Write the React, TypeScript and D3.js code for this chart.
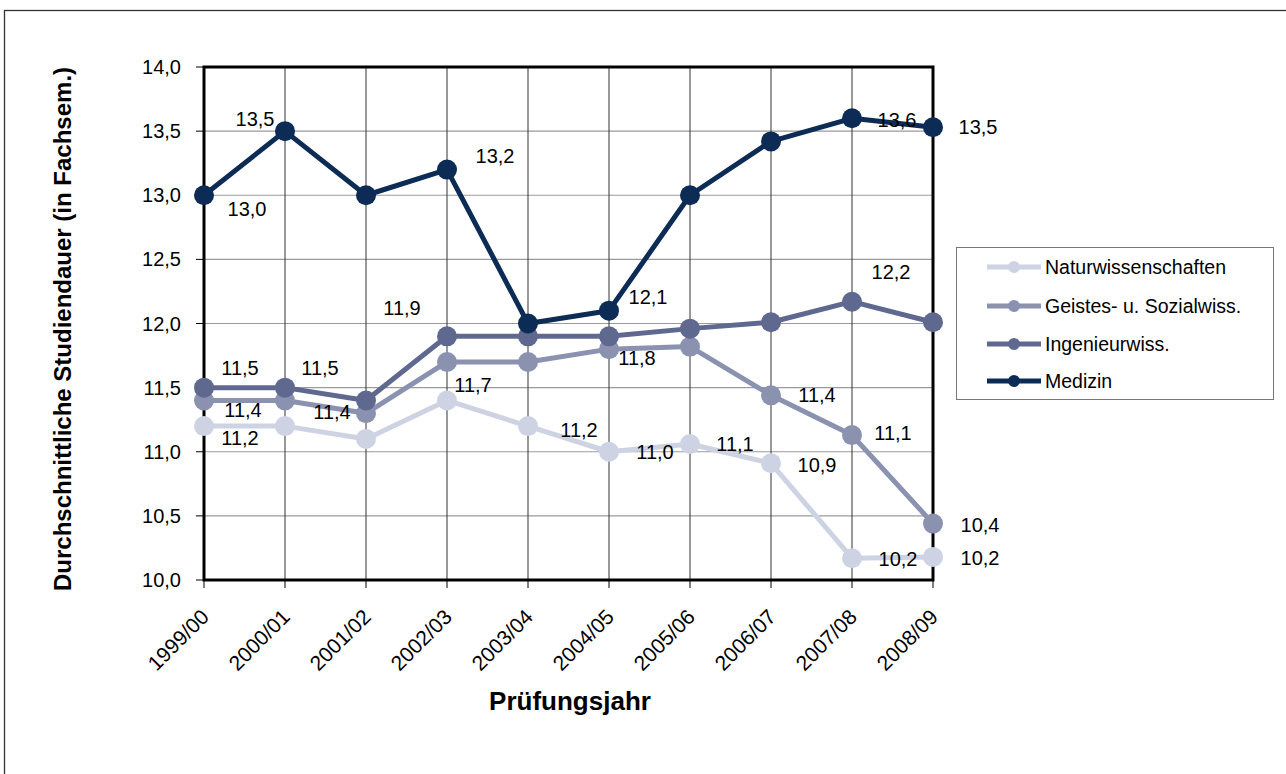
import React from "react";
import * as d3 from "d3";

const years = ["1999/00","2000/01","2001/02","2002/03","2003/04","2004/05","2005/06","2006/07","2007/08","2008/09"];
const seriesNames = ["Naturwissenschaften","Geistes- u. Sozialwiss.","Ingenieurwiss.","Medizin"];
const natur = [11.2, 11.2, 11.1, 11.4, 11.2, 11.0, 11.06, 10.91, 10.17, 10.18];
const geistes = [11.4, 11.4, 11.3, 11.7, 11.7, 11.8, 11.82, 11.44, 11.13, 10.44];
const ingenieur = [11.5, 11.5, 11.4, 11.9, 11.9, 11.9, 11.96, 12.01, 12.17, 12.01];
const medizin = [13.0, 13.5, 13.0, 13.2, 12.0, 12.1, 13.0, 13.42, 13.6, 13.53];
const yTicks = [10, 10.5, 11, 11.5, 12, 12.5, 13, 13.5, 14];
const seriesColors = ["#cdd3e3", "#8a92b0", "#5f6990", "#0c2b55"];

// which points carry a value label, and where (offset from the point)
const labelPlacement = [
  { s: 0, i: 0, dx: 36, dy: 12 }, { s: 0, i: 4, dx: 51, dy: 4 }, { s: 0, i: 5, dx: 46, dy: 0 },
  { s: 0, i: 6, dx: 45, dy: 0 }, { s: 0, i: 7, dx: 46, dy: 2 }, { s: 0, i: 8, dx: 46, dy: 1 },
  { s: 0, i: 9, dx: 47, dy: 1 },
  { s: 1, i: 0, dx: 39, dy: 10 }, { s: 1, i: 3, dx: 26, dy: 23 },
  { s: 1, i: 5, dx: 28, dy: 9 }, { s: 1, i: 7, dx: 46, dy: 0 }, { s: 1, i: 8, dx: 41, dy: -2 },
  { s: 1, i: 9, dx: 47, dy: 1 },
  { s: 2, i: 0, dx: 36, dy: -20 }, { s: 2, i: 1, dx: 35, dy: -20 }, { s: 2, i: 2, dx: -34, dy: 12 },
  { s: 2, i: 3, dx: -45, dy: -28 }, { s: 2, i: 8, dx: 39, dy: -30 },
  { s: 3, i: 0, dx: 43, dy: 14 }, { s: 3, i: 1, dx: -30, dy: -12 }, { s: 3, i: 3, dx: 48, dy: -14 },
  { s: 3, i: 5, dx: 39, dy: -14 }, { s: 3, i: 8, dx: 45, dy: 2 }, { s: 3, i: 9, dx: 45, dy: 0 },
];

const W = 1286, H = 774;
const left = 204, right = 933, top = 67, bottom = 580;
const FONT = "'Liberation Sans', Arial, sans-serif";

export default function App() {
  const data = [natur, geistes, ingenieur, medizin];
  const x = d3.scalePoint<string>().domain(years).range([left, right]);
  const y = d3.scaleLinear().domain([10, 14]).range([bottom, top]);
  const line = d3.line<number>().x((_, i) => x(years[i])!).y((d) => y(d));
  const fmt = (v: number) => d3.format(".1f")(v).replace(".", ",");

  const legendX = 956, legendY = 247, legendW = 317, legendH = 152;
  const legendRows = [267, 306, 344, 381];

  return (
    <svg width={W} height={H} style={{ position: "absolute", left: 0, top: 0, background: "#fff" }} fontFamily={FONT}>
      <rect x={0} y={0} width={W} height={H} fill="#fff" />
      {/* outer chart frame */}
      <rect x={4.5} y={10.5} width={W + 10} height={H + 10} fill="none" stroke="#333" strokeWidth={1.3} />

      {/* horizontal gridlines */}
      {yTicks.slice(1, -1).map((t) => (
        <line key={"h" + t} x1={left} x2={right} y1={y(t)} y2={y(t)} stroke="#9a9a9a" strokeWidth={1.2} />
      ))}
      {/* vertical gridlines */}
      {years.slice(1, -1).map((c) => (
        <line key={"v" + c} x1={x(c)} x2={x(c)} y1={top} y2={bottom} stroke="#333" strokeWidth={1} />
      ))}
      {/* y ticks */}
      {yTicks.map((t) => (
        <g key={"yt" + t}>
          <line x1={196} x2={left} y1={y(t)} y2={y(t)} stroke="#000" strokeWidth={1} />
          <text x={181} y={y(t)} dy="0.35em" textAnchor="end" fontSize={20} fill="#000">{fmt(t)}</text>
        </g>
      ))}
      {/* x ticks */}
      {years.map((c) => (
        <g key={"xt" + c}>
          <line x1={x(c)} x2={x(c)} y1={bottom} y2={bottom + 8} stroke="#000" strokeWidth={1} />
          <text transform={`translate(${x(c)! + 1},${bottom + 33}) rotate(-45)`} textAnchor="end" dy="0.35em" fontSize={21} fill="#000">{c}</text>
        </g>
      ))}
      {/* plot border */}
      <rect x={left} y={top} width={right - left} height={bottom - top} fill="none" stroke="#000" strokeWidth={3} />

      {/* series */}
      {data.map((vals, s) => (
        <g key={"s" + s}>
          <path d={line(vals) || ""} fill="none" stroke={seriesColors[s]} strokeWidth={5} strokeLinejoin="round" />
          {vals.map((v, i) => (
            <circle key={i} cx={x(years[i])} cy={y(v)} r={10} fill={seriesColors[s]} />
          ))}
        </g>
      ))}

      {/* data labels */}
      {labelPlacement.map((p, k) => (
        <text key={"l" + k} x={x(years[p.i])! + p.dx} y={y(data[p.s][p.i]) + p.dy} dy="0.35em" textAnchor="middle" fontSize={20} fill="#000">
          {fmt(data[p.s][p.i])}
        </text>
      ))}

      {/* axis titles */}
      <text x={570} y={701} dy="0.35em" textAnchor="middle" fontSize={26} fontWeight="bold" fill="#000">Prüfungsjahr</text>
      <text transform={`translate(63,329) rotate(-90)`} dy="0.35em" textAnchor="middle" fontSize={24} fontWeight="bold" fill="#000">
        Durchschnittliche Studiendauer (in Fachsem.)
      </text>

      {/* legend */}
      <rect x={legendX + 0.5} y={legendY + 0.5} width={legendW} height={legendH} fill="#fff" stroke="#777" strokeWidth={1} />
      {seriesNames.map((n, s) => (
        <g key={"lg" + s}>
          <line x1={987} x2={1041} y1={legendRows[s]} y2={legendRows[s]} stroke={seriesColors[s]} strokeWidth={5} />
          <circle cx={1014} cy={legendRows[s]} r={6} fill={seriesColors[s]} />
          <text x={1045} y={legendRows[s]} dy="0.35em" fontSize={19.5} fill="#000">{n}</text>
        </g>
      ))}
    </svg>
  );
}
